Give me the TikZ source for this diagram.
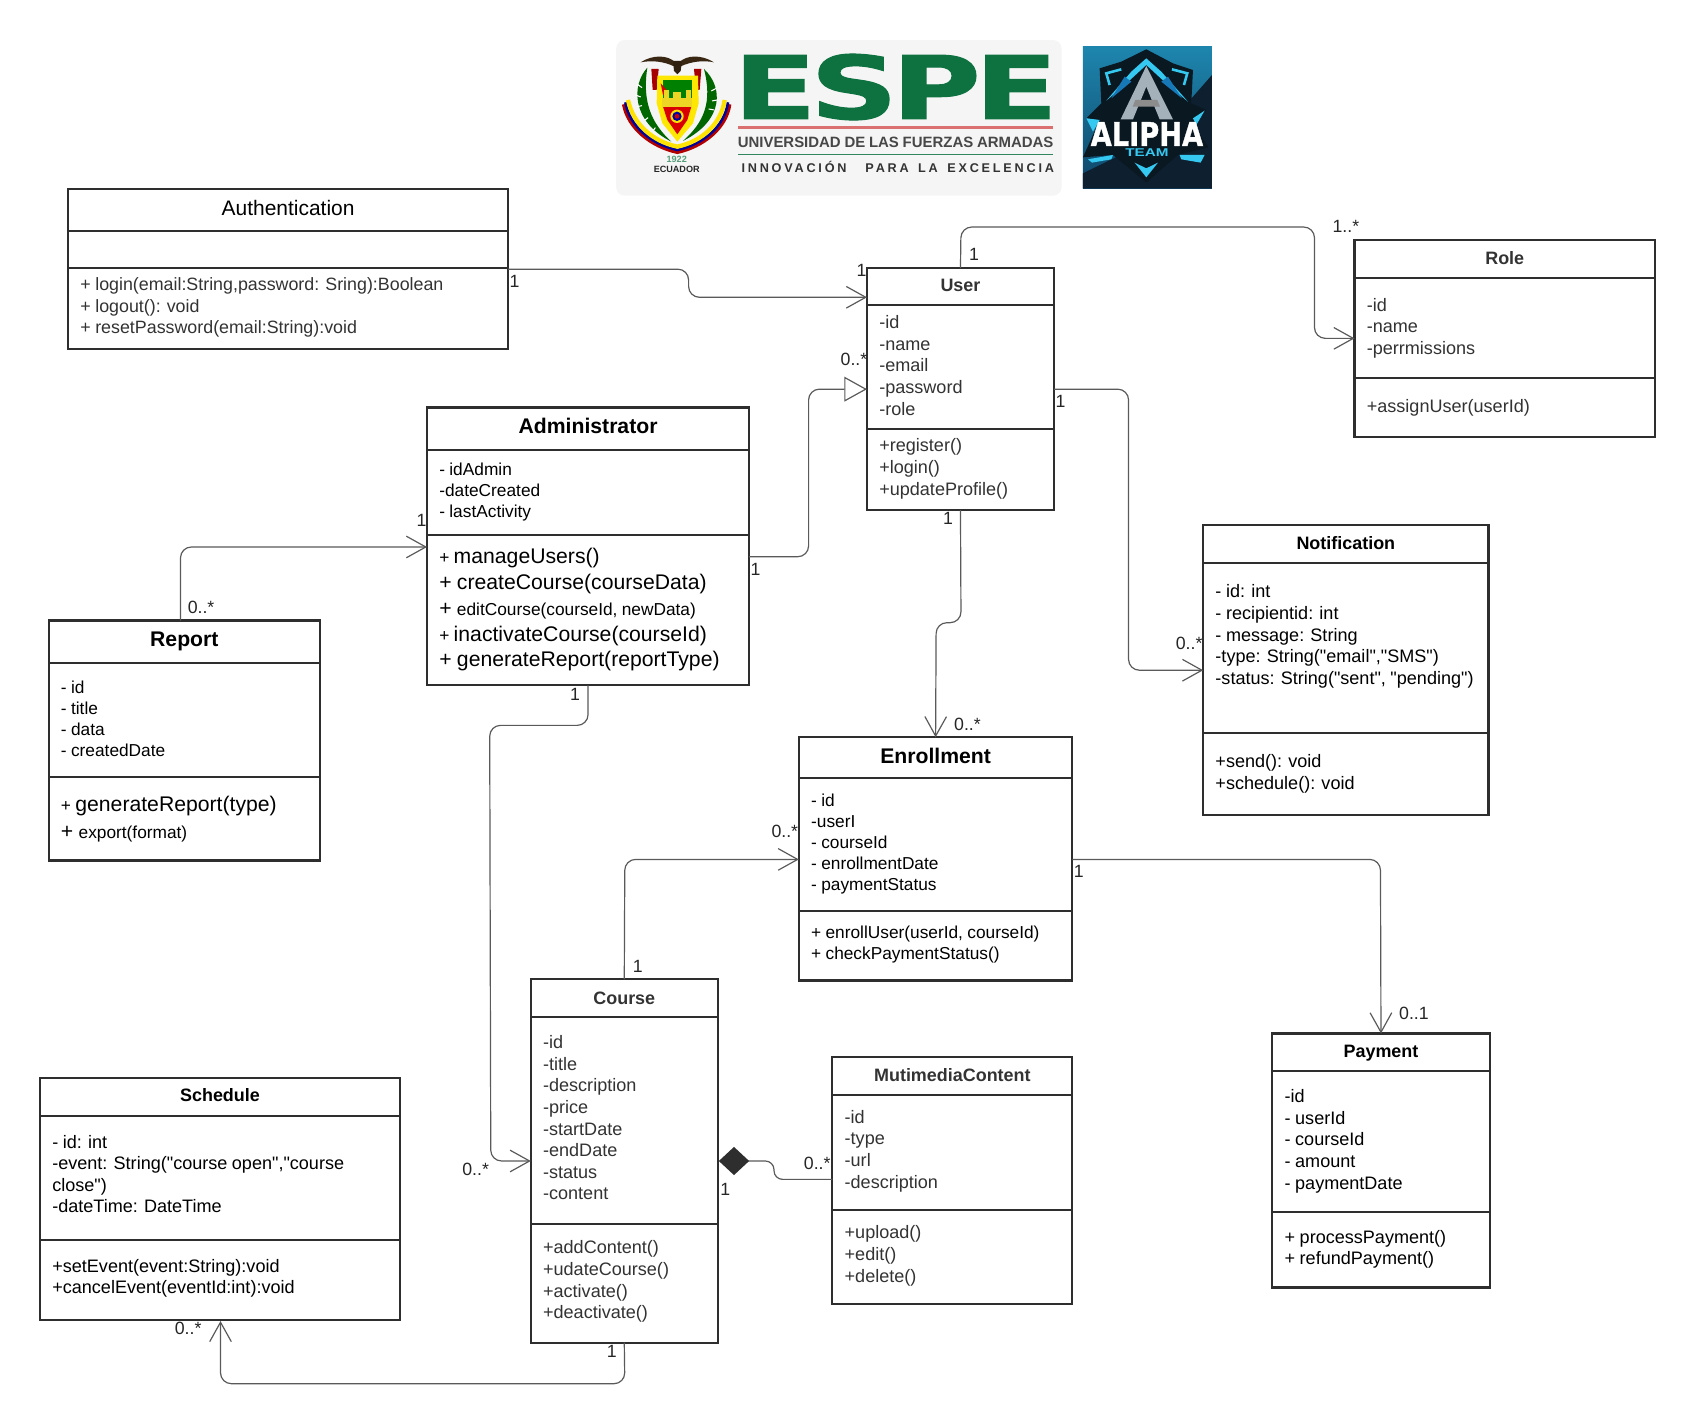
\documentclass[tikz,border=0pt]{standalone}
\usepackage{fontspec}
\usepackage{graphicx}
\usetikzlibrary{arrows.meta,fit}
\setmainfont{Liberation Sans}[Ligatures=TeXOff,WordSpace=0.9]
\newfontfamily\logofont{DejaVu Sans}[BoldFeatures={FakeBold=1.2}]
\newfontfamily\spacedfont[LetterSpace=22,WordSpace=1.5]{Liberation Sans}
\definecolor{boxline}{HTML}{2E2E2E}
\definecolor{conline}{HTML}{5A5A5A}
\definecolor{softtxt}{HTML}{333333}
\definecolor{espegreen}{HTML}{0E7140}
\definecolor{alphatop}{HTML}{1E86AE}
\definecolor{alphamid}{HTML}{0E4468}
\definecolor{alphadark}{HTML}{0E2030}
\definecolor{alphashield}{HTML}{0A1822}
\definecolor{alphacyan}{HTML}{35C8F0}
\definecolor{alphablue}{HTML}{1778B8}
\definecolor{alphagray}{HTML}{A4B0BA}
\tikzset{
  classbox/.style={draw=boxline,line width=1pt,inner sep=0pt,outer sep=0pt,rectangle},
  divider/.style={draw=boxline,line width=1pt},
  titlenode/.style={inner sep=0pt,text height=9pt,text depth=2pt,anchor=center},
  tbig/.style={font=\fontsize{9.8}{11}\bfseries\selectfont},
  tsmall/.style={font=\fontsize{8.3}{10}\bfseries\selectfont},
  tplain/.style={font=\fontsize{9.7}{11}\selectfont},
  bodytext/.style={inner sep=0pt,anchor=north west,align=left,yshift=-0.25pt,font=\fontsize{8.35}{10}\selectfont},
  bodyauth/.style={inner sep=0pt,anchor=north west,align=left,yshift=-0.25pt,font=\fontsize{8.25}{10}\selectfont},
  bodytight/.style={inner sep=0pt,anchor=north west,align=left,yshift=-0.25pt,font=\fontsize{8}{9.7}\selectfont},
  oneline/.style={inner sep=0pt,anchor=west,text height=9pt,text depth=2pt},
  mult/.style={inner sep=0pt,font=\fontsize{8.2}{10}\selectfont,text=black!85},
  assoc/.style={draw=conline,line width=.55pt,rounded corners=5pt,-{Straight Barb[length=9pt,width=10pt,line width=.55pt]}},
  inherit/.style={draw=conline,line width=.55pt,rounded corners=5pt,-{Triangle[open,length=10.5pt,width=11.5pt,line width=.55pt,fill=white]}},
  compose/.style={draw=conline,line width=.55pt,rounded corners=4pt,{Diamond[length=14pt,width=13pt,fill=boxline,color=boxline]}-},
}
\newcommand{\umlclass}[7]{%
  \node[classbox,fit={#2}] (#1) {};
  \draw[divider] (#1.west |- 0,#3) -- (#1.east |- 0,#3);
  \draw[divider] (#1.west |- 0,#4) -- (#1.east |- 0,#4);
  \node[titlenode,#5] (#1-title) at (#1.north |- 0,#6) {#7};
}
\begin{document}
\begin{tikzpicture}[x=0.5pt,y=-0.5pt]
\useasboundingbox (0,0) rectangle (1568,1318);
\fill[white] (0,0) rectangle (1568,1318);

% ---------- ESPE logo ----------
\fill[rounded corners=4pt,fill=black!4] (570,37) rectangle (982,181);
\node[inner sep=0pt,text=espegreen] (espe) at (828.5,80.5) {\resizebox{150pt}{30pt}{\logofont\bfseries E\kern-.05em S\kern-.05em P\kern-.05em E}};
\draw[line width=1pt,color=red!60!gray!70] (683,118) -- (974,118);
\node[inner sep=0pt,text=black!72] (espe-uni) at (828.5,132) {\resizebox{146pt}{!}{\bfseries UNIVERSIDAD DE LAS FUERZAS ARMADAS}};
\draw[line width=.6pt,color=espegreen!85] (683,143) -- (974,143);
\node[inner sep=0pt,text=black!80] (espe-inn) at (830.5,154.5) {\resizebox{144.5pt}{!}{\spacedfont\bfseries INNOVACIÓN\ \ PARA LA EXCELENCIA}};
\begin{scope}[shift={(571.7,41.6)},xscale=0.3083,yscale=0.3083]
  % ribbon
  \draw[line width=1.6pt,color=red!70!black] (17,178) .. controls (30,250) and (100,305) .. (178,322) .. controls (255,305) and (325,250) .. (335,178);
  \draw[line width=1.2pt,color=blue!60!black] (22,172) .. controls (35,245) and (100,298) .. (178,315) .. controls (255,298) and (320,245) .. (330,172);
  \draw[line width=2pt,color=yellow!85!orange] (30,165) .. controls (45,238) and (105,290) .. (178,305) .. controls (250,290) and (310,238) .. (320,165);
  % laurels
  \fill[green!40!black] (88,68) .. controls (40,120) and (40,230) .. (160,290) .. controls (100,235) and (72,170) .. (88,68) -- cycle;
  \fill[green!40!black] (258,72) .. controls (315,125) and (320,225) .. (195,288) .. controls (260,230) and (283,170) .. (258,72) -- cycle;
  \draw[white,line width=.5pt] (58,118) -- (72,128) (52,150) -- (68,156) (58,185) -- (72,182) (80,226) -- (90,218) (105,258) -- (112,248);
  \draw[white,line width=.5pt] (295,130) -- (280,138) (298,165) -- (282,168) (288,195) -- (272,192);
  % flags
  \fill[red!65!black] (100,72) -- (122,72) -- (116,135) -- (104,135) -- cycle;
  \fill[red!65!black] (228,72) -- (250,72) -- (245,135) -- (234,135) -- cycle;
  % shield
  \fill[yellow!90!orange] (118,92) -- (240,92) -- (242,175) -- (225,235) -- (178,290) -- (133,235) -- (116,175) -- cycle;
  \fill[green!50!black] (135,105) -- (222,105) -- (222,160) -- (135,160) -- cycle;
  \fill[red!85!black] (128,115) -- (150,140) -- (135,150) -- cycle;
  \fill[red!85!black] (135,185) -- (220,185) -- (208,225) -- (178,268) -- (148,225) -- cycle;
  \fill[yellow!70!brown] (137,135) rectangle (152,160);
  \fill[yellow!70!brown] (165,140) rectangle (190,160);
  \fill[yellow!70!brown] (203,135) rectangle (218,160);
  \fill[yellow!70!brown] (133,160) rectangle (222,185);
  \fill[yellow!85!orange] (177,214) circle[radius=20];
  \fill[blue!65!black] (177,214) circle[radius=14];
  \fill[red!80!black] (177,214) circle[radius=7];
  % eagle
  \fill[black!70!brown] (68,52) .. controls (105,28) and (150,30) .. (172,52) -- (170,65) .. controls (135,48) and (100,46) .. (68,52) -- cycle;
  \fill[black!70!brown] (288,52) .. controls (250,28) and (205,30) .. (184,52) -- (186,65) .. controls (222,48) and (258,46) .. (288,52) -- cycle;
  \fill[black!75!brown] (165,48) -- (192,48) -- (188,78) -- (178,88) -- (168,78) -- cycle;
\end{scope}
\node[inner sep=0pt,text=espegreen!70,font=\fontsize{4.2}{5}\bfseries\selectfont] (espe-year) at (626,147.5) {1922};
\node[inner sep=0pt,text=black!85,font=\fontsize{4.2}{5}\bfseries\selectfont] (espe-ec) at (626,157) {ECUADOR};

% ---------- Alpha team logo ----------
\begin{scope}[shift={(997.2,37)},xscale=0.3083,yscale=0.3083]
  \shade[top color=alphatop,bottom color=alphamid] (15,18) rectangle (402,445);
  \fill[alphadark] (402,105) -- (402,445) -- (15,445) -- (15,400) -- (240,290) -- cycle;
  \fill[alphashield] (205,28) -- (285,70) -- (345,90) -- (340,190) -- (385,210) -- (345,250) -- (392,322) -- (300,345) -- (205,428) -- (105,345) -- (15,352) -- (65,240) -- (25,235) -- (70,190) -- (65,85) -- (130,65) -- cycle;
  % brackets
  \draw[alphacyan,line width=1.2pt] (95,135) -- (85,100) -- (130,88);
  \draw[alphacyan,line width=1.2pt] (318,135) -- (328,100) -- (282,88);
  % wings
  \fill[alphacyan] (205,55) -- (250,95) -- (330,185) -- (270,135) -- (205,75) -- (140,135) -- (85,182) -- (160,95) -- cycle;
  \fill[alphablue] (140,110) -- (100,175) -- (160,125) -- cycle;
  \fill[alphablue] (270,110) -- (312,175) -- (250,125) -- cycle;
  % big A
  \fill[alphagray] (205,78) -- (285,238) -- (245,238) -- (205,140) -- (165,238) -- (128,238) -- cycle;
  \fill[black!45] (172,180) -- (238,180) -- (246,200) -- (164,200) -- cycle;
  % side accents
  \fill[alphacyan] (25,235) -- (65,240) -- (45,275) -- cycle;
  \fill[alphacyan] (380,212) -- (345,235) -- (355,255) -- cycle;
  \fill[alphacyan] (30,358) -- (105,345) -- (100,358) -- (42,368) -- cycle;
  \fill[alphacyan] (380,345) -- (305,345) -- (310,358) -- (368,368) -- cycle;
  \fill[alphacyan] (170,368) -- (205,385) -- (240,368) -- (205,412) -- cycle;
\end{scope}
\node[inner sep=0pt,text=white] (alpha-name) at (1061,124) {\resizebox{52pt}{11pt}{\logofont\bfseries ALIPHA}};
\node[inner sep=0pt,text=alphacyan] (alpha-team) at (1061,141.5) {\resizebox{20pt}{3.6pt}{\bfseries TEAM}};

% ---------- classes ----------
\umlclass{auth}{(63,175) (470,323)}{214}{248}{tplain}{192}{Authentication}
\node[bodyauth,text=softtxt] (auth-m) at (74,256) {+ login(email:String,password: Sring):Boolean\\+ logout(): void\\+ resetPassword(email:String):void};

\umlclass{user}{(802,248) (975,472)}{282}{397}{tsmall,text=softtxt}{263}{User}
\node[bodytext,text=softtxt] (user-a) at (813,291) {-id\\-name\\-email\\-password\\-role};
\node[bodytext,text=softtxt] (user-m) at (813,405) {+register()\\+login()\\+updateProfile()};

\umlclass{role}{(1253,222) (1531,404)}{257}{350}{tsmall,text=softtxt}{238}{Role}
\node[bodytext,text=softtxt] (role-a) at (1264,275) {-id\\-name\\-perrmissions};
\node[bodytext,text=softtxt] (role-m) at (1264,369) {+assignUser(userId)};

\umlclass{admin}{(395,377) (693,634)}{416}{495}{tbig}{394}{Administrator}
\node[bodytight] (admin-a) at (406,427) {- idAdmin\\-dateCreated\\- lastActivity};
\node[oneline] (admin-m1) at (406,514) {\fontsize{8}{10}\selectfont +\ \fontsize{9.8}{11}\selectfont manageUsers()};
\node[oneline] (admin-m2) at (406,538) {\fontsize{9.8}{11}\selectfont + createCourse(courseData)};
\node[oneline] (admin-m3) at (406,562) {\fontsize{9.8}{11}\selectfont +\ \fontsize{8}{10}\selectfont editCourse(courseId, newData)};
\node[oneline] (admin-m4) at (406,586) {\fontsize{8}{10}\selectfont +\ \fontsize{9.8}{11}\selectfont inactivateCourse(courseId)};
\node[oneline] (admin-m5) at (406,610) {\fontsize{9.8}{11}\selectfont + generateReport(reportType)};

\umlclass{report}{(45,574) (296,796)}{613}{719}{tbig}{591}{Report}
\node[bodytight] (report-a) at (56,629) {- id\\- title\\- data\\- createdDate};
\node[oneline] (report-m1) at (56,744) {\fontsize{8}{10}\selectfont +\ \fontsize{9.8}{11}\selectfont generateReport(type)};
\node[oneline] (report-m2) at (56,769) {\fontsize{9.8}{11}\selectfont +\ \fontsize{8}{10}\selectfont export(format)};

\umlclass{notif}{(1113,486) (1377,754)}{521}{678}{tsmall}{501}{Notification}
\node[bodytext] (notif-a) at (1124,540) {- id: int\\- recipientid: int\\- message: String\\-type: String("email","SMS")\\-status: String("sent", "pending")};
\node[bodytext] (notif-m) at (1124,697) {+send(): void\\+schedule(): void};

\umlclass{enroll}{(739,682) (992,907)}{720}{843}{tbig}{699}{Enrollment}
\node[bodytight] (enroll-a) at (750,734) {- id\\-userI\\- courseId\\- enrollmentDate\\- paymentStatus};
\node[bodytight] (enroll-m) at (750,856) {+ enrollUser(userId, courseId)\\+ checkPaymentStatus()};

\umlclass{course}{(491,906) (664,1242)}{941}{1132}{tsmall,text=softtxt}{922}{Course}
\node[bodytext,text=softtxt] (course-a) at (502,957) {-id\\-title\\-description\\-price\\-startDate\\-endDate\\-status\\-content};
\node[bodytext,text=softtxt] (course-m) at (502,1147) {+addContent()\\+udateCourse()\\+activate()\\+deactivate()};

\umlclass{sched}{(37,997) (370,1221)}{1032}{1147}{tsmall}{1012}{Schedule}
\node[bodytext] (sched-a) at (48,1049) {- id: int\\-event: String("course open","course\\close")\\-dateTime: DateTime};
\node[bodytext] (sched-m) at (48,1164) {+setEvent(event:String):void\\+cancelEvent(eventId:int):void};

\umlclass{media}{(770,978) (992,1206)}{1013}{1119}{tsmall,text=softtxt}{993}{MutimediaContent}
\node[bodytext,text=softtxt] (media-a) at (781,1026) {-id\\-type\\-url\\-description};
\node[bodytext,text=softtxt] (media-m) at (781,1133) {+upload()\\+edit()\\+delete()};

\umlclass{pay}{(1177,956) (1378,1191)}{991}{1121}{tsmall}{971}{Payment}
\node[bodytext] (pay-a) at (1188,1007) {-id\\- userId\\- courseId\\- amount\\- paymentDate};
\node[bodytext] (pay-m) at (1188,1137) {+ processPayment()\\+ refundPayment()};

% ---------- connectors ----------
\draw[assoc] (auth.east |- 0,249) -- (637,249) -- (637,275) -- (user.west |- 0,275);
\draw[assoc] (user.north) -- (889,210) -- (1216,210) -- (1216,313) -- (role.west |- 0,313);
\draw[assoc] (user.east |- 0,360) -- (1044,360) -- (1044,620) -- (notif.west |- 0,620);
\draw[assoc] (user.south) -- (889,576) -- (866,576) -- (enroll.north);
\draw[inherit] (admin.east |- 0,515) -- (748,515) -- (748,360) -- (user.west |- 0,360);
\draw[assoc] (167,574) -- (167,506) -- (admin.west |- 0,506);
\draw[assoc] (admin.south) -- (544,671) -- (453,671) -- (454,1074) -- (course.west |- 0,1074);
\draw[assoc] (course.north) -- (578,795) -- (enroll.west |- 0,795);
\draw[assoc] (enroll.east |- 0,795) -- (1277,795) -- (pay.north);
\draw[assoc] (course.south) -- (578,1280) -- (204,1280) -- (204,1222);
\draw[compose] (course.east |- 0,1074) ++(1,0) -- (716,1074) -- (716,1091) -- (media.west |- 0,1091);

% ---------- multiplicities ----------
\node[mult] (m1) at (476,260) {1};
\node[mult] (m2) at (797,250) {1};
\node[mult] (m3) at (901,235) {1};
\node[mult] (m4) at (1245,209) {1..*};
\node[mult] (m5) at (790,332) {0..*};
\node[mult] (m6) at (981,371) {1};
\node[mult] (m7) at (699,527) {1};
\node[mult] (m8) at (390,481) {1};
\node[mult] (m9) at (186,562) {0..*};
\node[mult] (m10) at (532,642) {1};
\node[mult] (m11) at (877,480) {1};
\node[mult] (m12) at (895,670) {0..*};
\node[mult] (m13) at (1100,595) {0..*};
\node[mult] (m14) at (726,769) {0..*};
\node[mult] (m15) at (998,806) {1};
\node[mult] (m16) at (1308,937) {0..1};
\node[mult] (m17) at (590,894) {1};
\node[mult] (m18) at (440,1082) {0..*};
\node[mult] (m19) at (671,1100) {1};
\node[mult] (m20) at (756,1076) {0..*};
\node[mult] (m21) at (174,1229) {0..*};
\node[mult] (m22) at (566,1250) {1};
\end{tikzpicture}
\end{document}
